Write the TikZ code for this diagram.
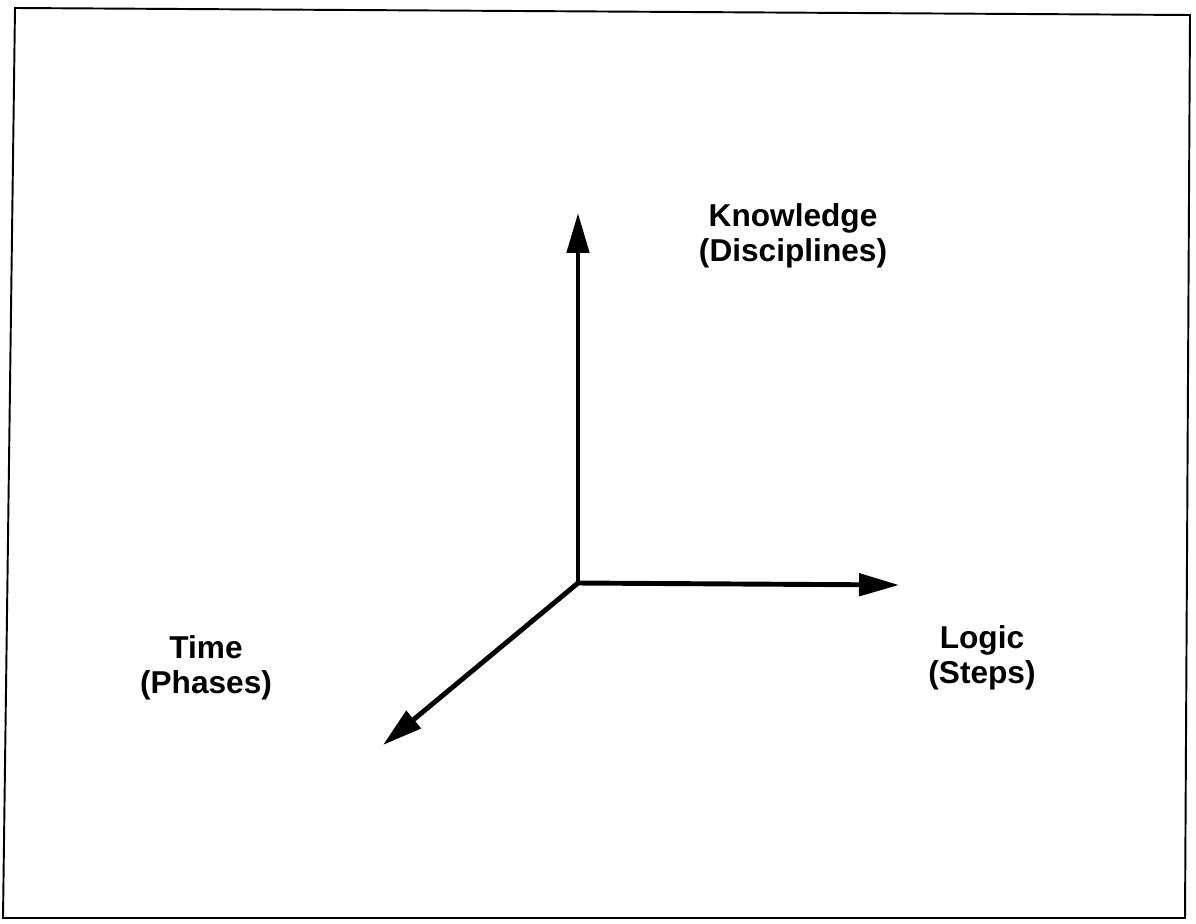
\documentclass[tikz,border=0pt]{standalone}
\usepackage{fontspec}
\setmainfont{Liberation Sans}
\usetikzlibrary{arrows.meta}

\begin{document}
\begin{tikzpicture}[x=0.02cm, y=-0.02cm,
    axis/.style={line width=2.8pt, -{Triangle[length=0.8cm, width=0.44cm]}},
    axislabel/.style={align=center, font=\fontsize{18}{20}\selectfont\bfseries}]

      \useasboundingbox (0,0) rectangle (1196,923);

      % frame
      \draw[line width=1.1pt] (15,8) -- (1190,15) -- (1185,918) -- (3,918) -- cycle;

      \coordinate (origin) at (578,583);
      \coordinate (knowend) at (578,213);
      \coordinate (logicend) at (899,585);
      \coordinate (timeend) at (383,745);

      \draw[axis] (origin) -- (knowend);
      \draw[axis] (origin) -- (logicend);
      \draw[axis] (origin) -- (timeend);

      \node[axislabel] (knowledge) at (793,236) {Knowledge\\(Disciplines)};
      \node[axislabel] (logic) at (982,658) {Logic\\(Steps)};
      \node[axislabel] (time) at (206,668) {Time\\(Phases)};

    \end{tikzpicture}
\end{document}
